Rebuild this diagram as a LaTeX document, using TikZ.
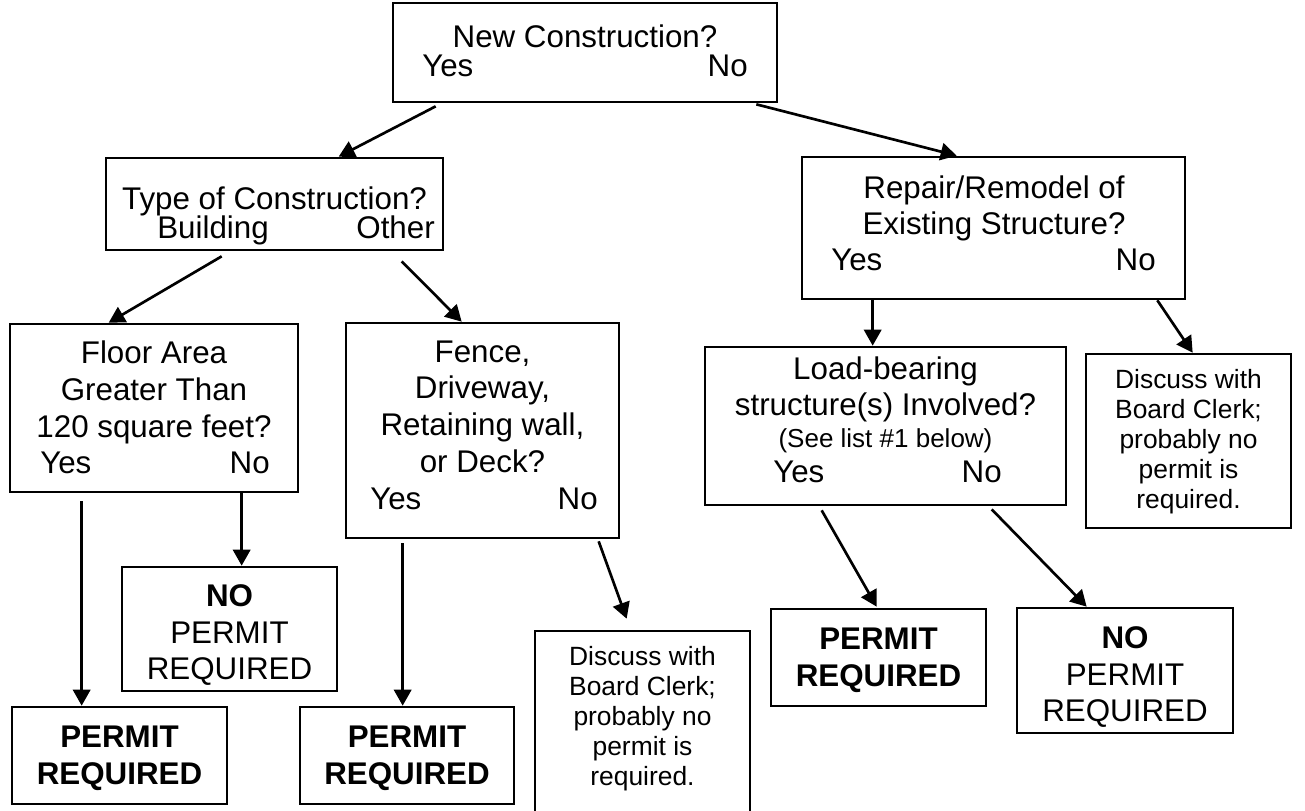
\documentclass[tikz,border=0pt]{standalone}
\usepackage{fontspec}
\setmainfont{Liberation Sans}
\usetikzlibrary{fit,calc,arrows.meta}
\begin{document}
\begin{tikzpicture}[x=0.75pt,y=-0.75pt,
  box/.style={draw=black,line width=2pt,inner sep=0pt,rectangle},
  txt/.style={inner sep=0pt,anchor=base,font=\fontsize{23.5}{27}\selectfont},
  yes/.style={txt,anchor=base west},
  no/.style={txt,anchor=base east},
  small/.style={inner sep=0pt,anchor=base,font=\fontsize{19.8}{23}\selectfont},
  tiny/.style={inner sep=0pt,anchor=base,font=\fontsize{19.5}{23}\selectfont},
  bold/.style={inner sep=0pt,anchor=base,font=\fontsize{23.5}{27}\selectfont\bfseries},
  arr/.style={line width=2pt,-{Triangle[length=12pt,width=13pt]}}]
\useasboundingbox (0,0) rectangle (1305,810);
\clip (0,0) rectangle (1305,810);
\fill[white] (0,0) rectangle (1305,810);
% boxes
\node[box,fit={(393,3) (777,102)}] (nc) {};
\node[box,fit={(106,158) (443,250)}] (type) {};
\node[box,fit={(802,157) (1185,299)}] (rep) {};
\node[box,fit={(10,324) (298,492)}] (floor) {};
\node[box,fit={(346,323) (619,538)}] (fence) {};
\node[box,fit={(705,347) (1066,505)}] (load) {};
\node[box,fit={(1086,354) (1291,528)}] (disR) {};
\node[box,fit={(122,567) (337,691)}] (noL) {};
\node[box,fit={(12,707) (227,804)}] (perL) {};
\node[box,fit={(300,707) (514,804)}] (perM) {};
\node[box,fit={(535,631) (750,830)}] (disM) {};
\node[box,fit={(771,609) (986,706)}] (perR) {};
\node[box,fit={(1017,608) (1233,733)}] (noR) {};
% texts
\node[txt] (t1) at (585,47) {New Construction?};
\node[yes] (t1y) at (422,76) {Yes};
\node[no] (t1n) at (748,76) {No};
\node[txt] (t2) at (274.5,209) {Type of Construction?};
\node[yes] (t2y) at (157,238) {Building};
\node[no] (t2n) at (435,238) {Other};
\node[txt] (t3a) at (994,198) {Repair/Remodel of};
\node[txt] (t3b) at (994,234) {Existing Structure?};
\node[yes] (t3y) at (831,270) {Yes};
\node[no] (t3n) at (1156,270) {No};
\node[txt] (t4a) at (154,363) {Floor Area};
\node[txt] (t4b) at (154,400) {Greater Than};
\node[txt] (t4c) at (154,437) {120 square feet?};
\node[yes] (t4y) at (40,473) {Yes};
\node[no] (t4n) at (270,473) {No};
\node[txt] (t5a) at (482.5,362) {Fence,};
\node[txt] (t5b) at (482.5,398) {Driveway,};
\node[txt] (t5c) at (482.5,435) {Retaining wall,};
\node[txt] (t5d) at (482.5,472) {or Deck?};
\node[yes] (t5y) at (370,509) {Yes};
\node[no] (t5n) at (598,509) {No};
\node[txt] (t6a) at (885.5,379) {Load-bearing};
\node[txt] (t6b) at (885.5,415) {structure(s) Involved?};
\node[tiny] (t6c) at (885.5,447) {(See list \#1 below)};
\node[yes] (t6y) at (773,482) {Yes};
\node[no] (t6n) at (1002,482) {No};
\node[small] (t7a) at (1188.5,388) {Discuss with};
\node[small] (t7b) at (1188.5,418) {Board Clerk;};
\node[small] (t7c) at (1188.5,448) {probably no};
\node[small] (t7d) at (1188.5,478) {permit is};
\node[small] (t7e) at (1188.5,508) {required.};
\node[small] (t8a) at (642.5,665) {Discuss with};
\node[small] (t8b) at (642.5,695) {Board Clerk;};
\node[small] (t8c) at (642.5,725) {probably no};
\node[small] (t8d) at (642.5,755) {permit is};
\node[small] (t8e) at (642.5,785) {required.};
\node[bold] (t9a) at (229.5,606) {NO};
\node[txt] (t9b) at (229.5,643) {PERMIT};
\node[txt] (t9c) at (229.5,679) {REQUIRED};
\node[bold] (t10a) at (1125,648) {NO};
\node[txt] (t10b) at (1125,685) {PERMIT};
\node[txt] (t10c) at (1125,721) {REQUIRED};
\node[bold] (t11a) at (119.5,747) {PERMIT};
\node[bold] (t11b) at (119.5,784) {REQUIRED};
\node[bold] (t12a) at (407,747) {PERMIT};
\node[bold] (t12b) at (407,784) {REQUIRED};
\node[bold] (t13a) at (878.5,649) {PERMIT};
\node[bold] (t13b) at (878.5,686) {REQUIRED};
% arrows
\draw[arr] ($(nc.south west)+(44,3)$) -- ($(type.north west)+(234,0)$);
\draw[arr] ($(nc.south east)+(-22,1)$) -- ($(rep.north west)+(156,0)$);
\draw[arr] ($(type.south west)+(117,5)$) -- ($(floor.north west)+(100,0)$);
\draw[arr] ($(type.south west)+(297,10)$) -- ($(fence.north west)+(117,0)$);
\draw[arr] ($(rep.south west)+(72,0)$) -- ($(load.north west)+(169,0)$);
\draw[arr] ($(rep.south east)+(-29,0)$) -- ($(disR.north west)+(108,0)$);
\draw[arr] ($(floor.south west)+(73,8)$) -- ($(perL.north west)+(71,0)$);
\draw[arr] ($(floor.south west)+(233,0)$) -- ($(noL.north west)+(121,0)$);
\draw[arr] ($(fence.south west)+(58,4)$) -- ($(perM.north west)+(104,0)$);
\draw[arr] ($(fence.south west)+(254,2)$) -- ($(disM.north west)+(93,-11)$);
\draw[arr] ($(load.south west)+(118,4)$) -- ($(perR.north west)+(107,-1)$);
\draw[arr] ($(load.south west)+(288,3)$) -- ($(noR.north west)+(71,0)$);
\end{tikzpicture}
\end{document}
